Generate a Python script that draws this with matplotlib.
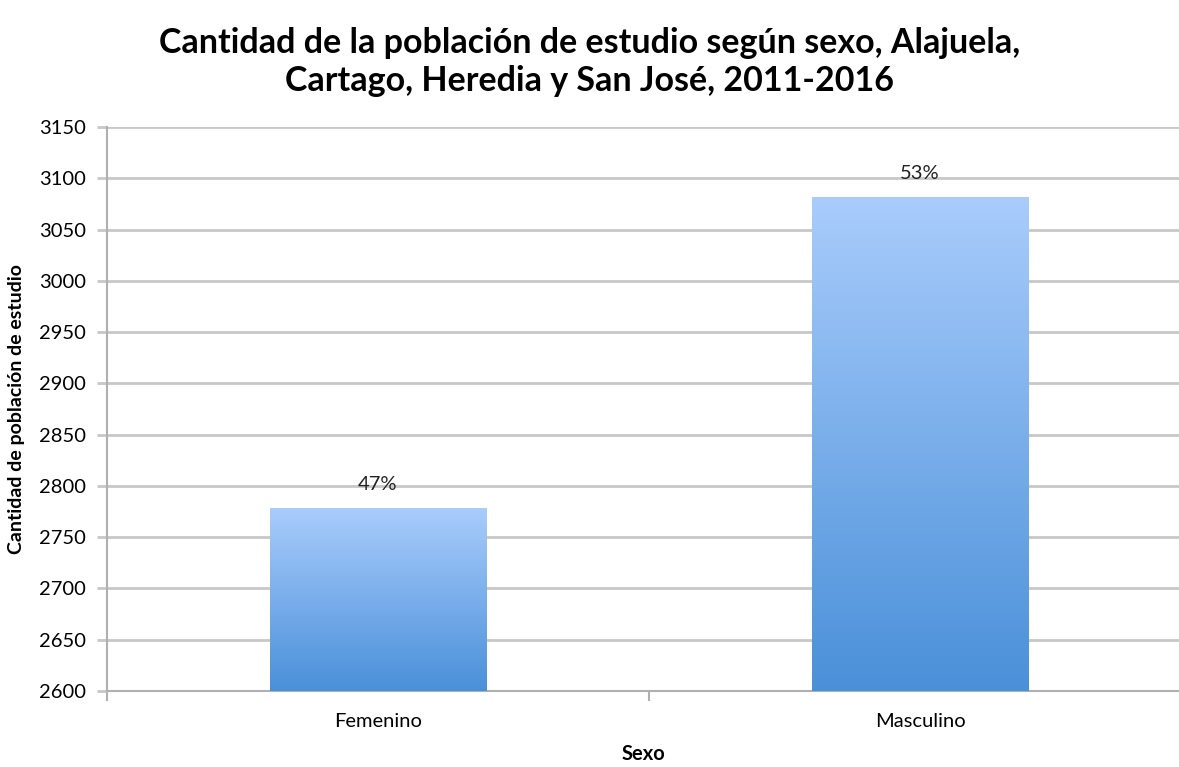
import matplotlib
matplotlib.use("Agg")
import matplotlib.pyplot as plt
import numpy as np
from matplotlib.colors import LinearSegmentedColormap

categories = ["Femenino", "Masculino"]
values = [2778, 3081]
pct_labels = ["47%", "53%"]
yticks = [2600, 2650, 2700, 2750, 2800, 2850, 2900, 2950, 3000, 3050, 3100, 3150]

plt.rcParams['font.family'] = ['Lato', 'DejaVu Sans']

fig = plt.figure(figsize=(11.79, 7.67), dpi=100)
ax = fig.add_axes([107/1179, 76/767, 1 - 107/1179, 564/767])

ymin, ymax = 2600, 3150

cmap = LinearSegmentedColormap.from_list("g", ["#4a90d9", "#a9ccfc"])
grad = np.linspace(0, 1, 256).reshape(-1, 1)
width = 0.4
x = np.arange(len(categories))
bars = ax.bar(x, values, width=width, color="none", zorder=3)
for b, v in zip(bars, values):
    x0 = b.get_x()
    ax.imshow(grad, extent=[x0, x0 + width, ymin, v], origin="lower",
              cmap=cmap, aspect="auto", zorder=3, vmin=0, vmax=1)
ax.set_xlim(-0.5, 1.478)
ax.set_ylim(ymin, ymax)

for xi, v, lab in zip(x, values, pct_labels):
    ax.annotate(lab, (xi, v), xytext=(0, 11), textcoords="offset points",
                ha="center", va="bottom", fontsize=14.5, color="#222222", zorder=4)

ax.set_yticks(yticks)
ax.set_yticklabels([str(t) for t in yticks], fontsize=14.5)
ax.yaxis.grid(True, color="#c8c8c8", linewidth=2, zorder=0)
ax.set_axisbelow(True)

ax.set_xticks([-0.5, 0.5])
ax.set_xticklabels(["", ""])
ax.set_xticks(x, minor=True)
ax.set_xticklabels(categories, minor=True, fontsize=14.5)
ax.tick_params(axis="x", which="minor", length=0, pad=16)
ax.tick_params(axis="x", which="major", length=7, color="#b0b0b0", width=1.5)
ax.tick_params(axis="y", length=7, color="#c8c8c8", width=2, pad=8)

for s in ["top", "right"]:
    ax.spines[s].set_visible(False)
ax.spines["left"].set_color("#b0b0b0")
ax.spines["left"].set_linewidth(1.5)
ax.spines["bottom"].set_color("#b0b0b0")
ax.spines["bottom"].set_linewidth(1.5)

ax.set_xlabel("Sexo", fontsize=14.5, fontweight="bold", labelpad=10)
ax.set_ylabel("Cantidad de población de estudio", fontsize=14, fontweight="bold", labelpad=10)

fig.suptitle("Cantidad de la población de estudio según sexo, Alajuela,\nCartago, Heredia y San José, 2011-2016",
             fontsize=24.5, fontweight="bold", y=0.965, x=0.5, linespacing=1.25)

fig.savefig("out.png", dpi=100)
